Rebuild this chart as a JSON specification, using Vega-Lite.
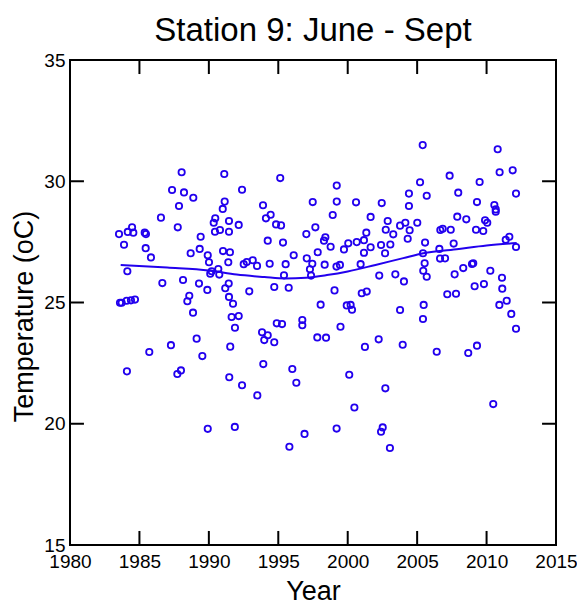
{
  "$schema": "https://vega.github.io/schema/vega-lite/v6.json",
  "width": 486,
  "height": 485,
  "autosize": "none",
  "padding": {"left": 70, "top": 60, "right": 21, "bottom": 60},
  "background": "white",
  "title": {"text": "Station 9: June - Sept", "font": "Liberation Sans", "fontSize": 33, "fontWeight": "normal", "color": "black", "anchor": "middle", "baseline": "alphabetic", "offset": 16, "dy": 39},
  "config": {
    "view": {"stroke": "black", "strokeWidth": 2},
    "axis": {
      "grid": false,
      "labelFont": "Liberation Sans", "labelFontSize": 19, "labelColor": "black",
      "titleFont": "Liberation Sans", "titleFontSize": 27, "titleFontWeight": "normal", "titleColor": "black"
    }
  },
  "datasets": {
    "pts": [
      {"year":1988.04,"temp":30.37},{"year":1991.11,"temp":30.30},{"year":1987.35,"temp":29.64},{"year":1988.21,"temp":29.54},{"year":1988.88,"temp":29.32},{"year":1992.39,"temp":29.65},{"year":1995.14,"temp":30.13},{"year":1987.85,"temp":28.98},{"year":1991.14,"temp":29.16},{"year":1991.00,"temp":28.86},{"year":1986.55,"temp":28.50},{"year":1987.76,"temp":28.10},{"year":1990.46,"temp":28.47},{"year":1990.35,"temp":28.29},{"year":1991.45,"temp":28.36},{"year":1992.15,"temp":28.20},{"year":1990.44,"temp":27.92},{"year":1990.80,"temp":27.99},{"year":1991.45,"temp":27.92},{"year":1989.41,"temp":27.71},{"year":1983.53,"temp":27.82},{"year":1984.16,"temp":27.91},{"year":1984.47,"temp":28.10},{"year":1984.56,"temp":27.88},{"year":1985.38,"temp":27.88},{"year":1985.47,"temp":27.82},{"year":1983.89,"temp":27.38},{"year":1985.45,"temp":27.24},{"year":1993.90,"temp":29.01},{"year":1994.11,"temp":28.47},{"year":1994.45,"temp":28.62},{"year":1994.84,"temp":28.22},{"year":1995.20,"temp":28.18},{"year":1994.24,"temp":27.55},{"year":1995.34,"temp":27.47},{"year":1997.48,"temp":29.14},{"year":1997.67,"temp":28.10},{"year":1997.02,"temp":27.82},{"year":1998.39,"temp":27.69},{"year":1998.29,"temp":27.55},{"year":1998.92,"temp":28.61},{"year":1999.21,"temp":29.82},{"year":1999.21,"temp":29.16},{"year":1998.77,"temp":27.30},
      {"year":2005.40,"temp":31.49},{"year":2010.80,"temp":31.32},{"year":2010.94,"temp":30.37},{"year":2011.88,"temp":30.45},{"year":2012.12,"temp":29.49},{"year":2007.34,"temp":30.23},{"year":2009.50,"temp":29.97},{"year":2005.21,"temp":29.96},{"year":2007.96,"temp":29.53},{"year":2005.69,"temp":29.40},{"year":2004.41,"temp":29.49},{"year":2004.41,"temp":28.98},{"year":2009.31,"temp":29.14},{"year":2010.56,"temp":29.02},{"year":2010.66,"temp":28.84},{"year":2010.66,"temp":28.74},{"year":2000.60,"temp":29.13},{"year":2002.45,"temp":29.10},{"year":2001.65,"temp":28.53},{"year":2002.88,"temp":28.36},{"year":2002.74,"temp":28.00},{"year":2003.28,"temp":27.81},{"year":2003.77,"temp":28.17},{"year":2004.15,"temp":28.29},{"year":2004.46,"temp":27.98},{"year":2005.01,"temp":28.29},{"year":2004.32,"temp":27.63},{"year":2005.57,"temp":27.47},{"year":2006.67,"temp":27.99},{"year":2006.84,"temp":28.04},{"year":2007.42,"temp":28.00},{"year":2007.89,"temp":28.54},{"year":2008.54,"temp":28.43},{"year":2009.89,"temp":28.39},{"year":2010.05,"temp":28.29},{"year":2009.24,"temp":28.00},{"year":2009.76,"temp":27.95},{"year":2007.63,"temp":27.43},{"year":2001.34,"temp":27.88},{"year":2001.17,"temp":27.57},{"year":2000.65,"temp":27.49},{"year":2000.04,"temp":27.44},{"year":2002.40,"temp":27.37},{"year":2003.07,"temp":27.39},{"year":2001.65,"temp":27.28},{"year":1999.73,"temp":27.19},{"year":2011.38,"temp":27.59},{"year":2011.64,"temp":27.71},{"year":2012.12,"temp":27.29},{"year":2006.60,"temp":27.21},
      {"year":1985.83,"temp":26.86},{"year":1984.13,"temp":26.29},{"year":1983.60,"temp":24.99},{"year":1983.72,"temp":24.99},{"year":1984.08,"temp":25.07},{"year":1984.39,"temp":25.09},{"year":1984.68,"temp":25.12},{"year":1986.65,"temp":25.80},{"year":1988.14,"temp":25.93},{"year":1989.29,"temp":25.78},{"year":1989.89,"temp":25.52},{"year":1988.69,"temp":27.03},{"year":1989.34,"temp":27.21},{"year":1989.92,"temp":26.95},{"year":1990.01,"temp":26.66},{"year":1991.02,"temp":27.12},{"year":1991.52,"temp":27.07},{"year":1991.40,"temp":26.66},{"year":1990.10,"temp":26.19},{"year":1990.20,"temp":26.29},{"year":1990.68,"temp":26.38},{"year":1990.75,"temp":26.15},{"year":1991.43,"temp":25.78},{"year":1991.18,"temp":25.59},{"year":1991.45,"temp":25.23},{"year":1991.74,"temp":24.95},{"year":1988.59,"temp":25.28},{"year":1988.45,"temp":25.05},{"year":1988.86,"temp":24.58},{"year":1991.64,"temp":24.40},{"year":1992.15,"temp":24.44},{"year":1991.88,"temp":23.96},{"year":1989.12,"temp":23.51},{"year":1987.27,"temp":23.24},{"year":1985.71,"temp":22.96},{"year":1989.53,"temp":22.79},{"year":1991.54,"temp":23.18},{"year":1984.10,"temp":22.16},{"year":1987.73,"temp":22.05},{"year":1987.99,"temp":22.20},{"year":1991.47,"temp":21.92},{"year":1992.39,"temp":21.59},{"year":1993.49,"temp":21.17},{"year":1989.92,"temp":19.79},{"year":1991.87,"temp":19.87},{"year":1996.89,"temp":19.58},{"year":1999.20,"temp":19.80},
      {"year":1992.91,"temp":25.46},{"year":1992.51,"temp":26.58},{"year":1992.73,"temp":26.67},{"year":1993.16,"temp":26.74},{"year":1993.47,"temp":26.51},{"year":1994.38,"temp":26.60},{"year":1996.11,"temp":26.95},{"year":1995.53,"temp":26.58},{"year":1995.41,"temp":26.12},{"year":1994.71,"temp":25.64},{"year":1995.75,"temp":25.61},{"year":1997.05,"temp":26.82},{"year":1997.84,"temp":27.07},{"year":1997.45,"temp":26.60},{"year":1997.28,"temp":26.37},{"year":1997.36,"temp":26.11},{"year":1998.34,"temp":26.56},{"year":1999.19,"temp":26.48},{"year":1999.44,"temp":26.55},{"year":1999.05,"temp":25.50},{"year":1998.05,"temp":24.91},{"year":1994.89,"temp":24.14},{"year":1995.27,"temp":24.11},{"year":1996.73,"temp":24.28},{"year":1996.73,"temp":24.06},{"year":1993.83,"temp":23.77},{"year":1994.24,"temp":23.65},{"year":1993.99,"temp":23.45},{"year":1994.71,"temp":23.36},{"year":1997.81,"temp":23.56},{"year":1998.44,"temp":23.55},{"year":1993.92,"temp":22.46},{"year":1996.01,"temp":22.26},{"year":1996.30,"temp":21.69},{"year":1999.48,"temp":24.00},
      {"year":2001.17,"temp":27.05},{"year":2002.69,"temp":27.03},{"year":2005.42,"temp":27.03},{"year":2005.54,"temp":26.62},{"year":2005.44,"temp":26.31},{"year":2005.69,"temp":26.06},{"year":2006.65,"temp":26.81},{"year":2007.01,"temp":26.82},{"year":2000.93,"temp":26.58},{"year":2002.27,"temp":26.11},{"year":2003.43,"temp":26.16},{"year":2004.05,"temp":25.87},{"year":2001.01,"temp":25.38},{"year":2001.37,"temp":25.45},{"year":1999.93,"temp":24.88},{"year":2000.21,"temp":24.90},{"year":2000.31,"temp":24.70},{"year":2003.77,"temp":24.69},{"year":2005.47,"temp":24.90},{"year":2005.42,"temp":24.32},{"year":2007.17,"temp":25.34},{"year":2007.80,"temp":25.36},{"year":2007.70,"temp":26.16},{"year":2008.32,"temp":26.42},{"year":2008.95,"temp":26.59},{"year":2009.04,"temp":26.62},{"year":2010.27,"temp":26.31},{"year":2009.14,"temp":25.67},{"year":2009.81,"temp":25.76},{"year":2011.11,"temp":26.02},{"year":2011.13,"temp":25.57},{"year":2011.45,"temp":25.07},{"year":2010.92,"temp":24.90},{"year":2011.78,"temp":24.53},{"year":2012.12,"temp":23.92},{"year":2001.24,"temp":23.17},{"year":2002.23,"temp":23.48},{"year":2003.96,"temp":23.26},{"year":2006.41,"temp":22.97},{"year":2008.68,"temp":22.92},{"year":2009.31,"temp":23.22},{"year":2000.11,"temp":22.02},{"year":2002.71,"temp":21.46},{"year":2000.48,"temp":20.67},{"year":2010.48,"temp":20.81},{"year":2002.52,"temp":19.85},{"year":2002.40,"temp":19.67},{"year":1995.80,"temp":19.05},{"year":2003.04,"temp":19.00}
    ],
    "smooth": [
      {"year":1983.65,"temp":26.55},{"year":1987.0,"temp":26.44},{"year":1990.0,"temp":26.32},{"year":1992.0,"temp":26.15},{"year":1994.0,"temp":26.05},{"year":1995.5,"temp":25.99},{"year":1997.0,"temp":26.02},{"year":1998.5,"temp":26.13},{"year":2000.0,"temp":26.28},{"year":2002.0,"temp":26.55},{"year":2004.0,"temp":26.83},{"year":2005.44,"temp":27.03},{"year":2008.0,"temp":27.21},{"year":2010.0,"temp":27.35},{"year":2012.17,"temp":27.45}
    ],
    "xticks": [{"tick":1985},{"tick":1990},{"tick":1995},{"tick":2000},{"tick":2005},{"tick":2010}],
    "yticks": [{"tick":20},{"tick":25},{"tick":30}]
  },
  "layer": [
    {
      "data": {"name": "pts"},
      "mark": {"type": "point", "shape": "circle", "filled": false, "size": 40, "strokeWidth": 1.8, "color": "#2200ee", "opacity": 1},
      "encoding": {
        "x": {"field": "year", "type": "quantitative", "scale": {"domain": [1980, 2015], "nice": false, "zero": false},
              "axis": {"orient": "bottom", "values": [1980,1985,1990,1995,2000,2005,2010,2015], "format": "d", "domain": false, "ticks": false, "labelFlush": false, "labelPadding": 7, "title": "Year", "titleBaseline": "alphabetic", "titleX": 243, "titleY": 54}},
        "y": {"field": "temp", "type": "quantitative", "scale": {"domain": [15, 35], "nice": false, "zero": false},
              "axis": {"orient": "left", "values": [15,20,25,30,35], "domain": false, "ticks": false, "labelFlush": false, "labelPadding": 5, "title": "Temperature (oC)", "titleBaseline": "alphabetic", "titleX": -38, "titleY": 256, "titleAngle": -90}}
      }
    },
    {
      "data": {"name": "smooth"},
      "mark": {"type": "line", "color": "#2200ee", "strokeWidth": 2, "interpolate": "monotone"},
      "encoding": {
        "x": {"field": "year", "type": "quantitative", "axis": null},
        "y": {"field": "temp", "type": "quantitative", "axis": null}
      }
    },
    {
      "data": {"name": "xticks"},
      "mark": {"type": "tick", "orient": "vertical", "color": "black", "thickness": 2, "size": 14, "opacity": 1},
      "encoding": {
        "x": {"field": "tick", "type": "quantitative", "axis": null},
        "y": {"datum": 15.29, "type": "quantitative", "axis": null}
      }
    },
    {
      "data": {"name": "xticks"},
      "mark": {"type": "tick", "orient": "vertical", "color": "black", "thickness": 2, "size": 14, "opacity": 1},
      "encoding": {
        "x": {"field": "tick", "type": "quantitative", "axis": null},
        "y": {"datum": 34.71, "type": "quantitative", "axis": null}
      }
    },
    {
      "data": {"name": "yticks"},
      "mark": {"type": "tick", "orient": "horizontal", "color": "black", "thickness": 2, "size": 14, "opacity": 1},
      "encoding": {
        "y": {"field": "tick", "type": "quantitative", "axis": null},
        "x": {"datum": 1980.5, "type": "quantitative", "axis": null}
      }
    },
    {
      "data": {"name": "yticks"},
      "mark": {"type": "tick", "orient": "horizontal", "color": "black", "thickness": 2, "size": 14, "opacity": 1},
      "encoding": {
        "y": {"field": "tick", "type": "quantitative", "axis": null},
        "x": {"datum": 2014.5, "type": "quantitative", "axis": null}
      }
    }
  ],
  "resolve": {"axis": {"x": "independent", "y": "independent"}}
}
